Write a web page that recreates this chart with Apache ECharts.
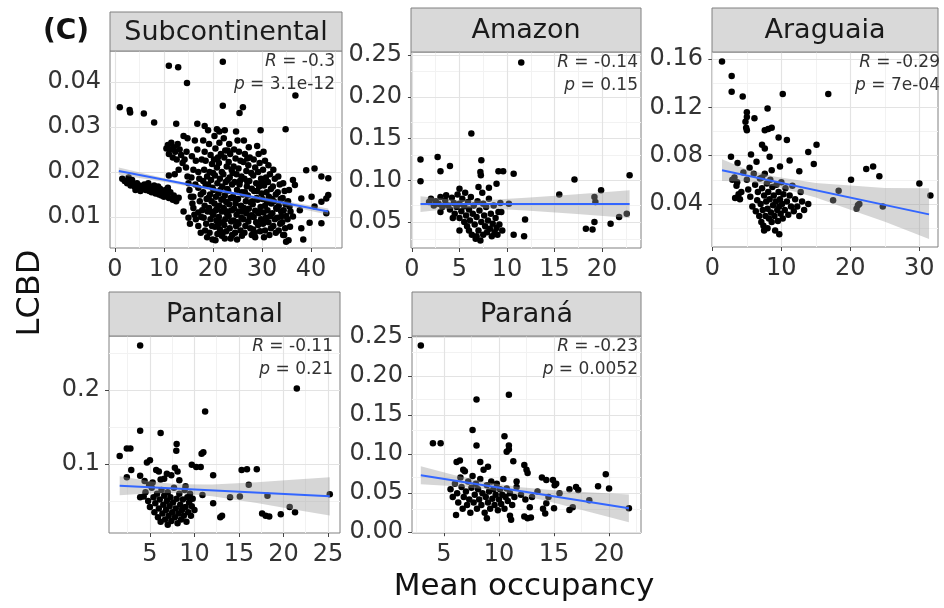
<!DOCTYPE html>
<html><head><meta charset="utf-8">
<script src="https://cdn.jsdelivr.net/npm/echarts@6/dist/echarts.min.js"></script>
<style>html,body{margin:0;padding:0;background:#fff}#c{width:944px;height:608px}</style>
</head><body><div id="c"></div>
<script>
// ---------------- DATA ----------------
const panelNames = ['Subcontinental', 'Amazon', 'Araguaia', 'Pantanal', 'Paraná'];
const rLabels = ['-0.3', '-0.14', '-0.29', '-0.11', '-0.23'];
const pLabels = ['3.1e-12', '0.15', '7e-04', '0.21', '0.0052'];

const subcontinentalPts = [
[22.0,0.0445],[11.0,0.0436],[12.9,0.0433],[14.7,0.0398],[36.8,0.0370],[1.0,0.0344],[3.0,0.0338],[3.1,0.0332],[5.9,0.0330],[8.0,0.0310],[22.0,0.0347],[26.1,0.0344],[25.4,0.0331],[29.7,0.0293],[34.8,0.0295],[16.8,0.0307],[12.5,0.0307],[20.8,0.0295],[21.3,0.0290],[22.4,0.0293],[24.7,0.0290],[18.3,0.0302],[19.0,0.0293],
[1.5,0.0185],[2.0,0.0180],[2.5,0.0175],[3.0,0.0178],[3.2,0.0170],[3.8,0.0172],[4.0,0.0168],[4.5,0.0175],[4.8,0.0165],[5.0,0.0170],[5.5,0.0162],[5.8,0.0168],[6.0,0.0172],[6.3,0.0160],[6.6,0.0165],[7.0,0.0158],[7.2,0.0167],[7.5,0.0155],[7.8,0.0162],[8.0,0.0170],[8.3,0.0152],[8.6,0.0158],[9.0,0.0150],[9.2,0.0163],[9.5,0.0148],[9.8,0.0155],[10.0,0.0145],[10.3,0.0160],[10.6,0.0150],[11.0,0.0142],[11.3,0.0155],[11.8,0.0138],[12.0,0.0148],[12.5,0.0135],[13.0,0.0143],[4.2,0.0160],[5.2,0.0158],[6.8,0.0175],[8.8,0.0168],[10.8,0.0165],[2.8,0.0188],[3.5,0.0182],
[10.8,0.0260],[11.2,0.0250],[11.5,0.0265],[12.0,0.0255],[12.3,0.0245],[11.0,0.0240],[12.8,0.0262],[13.2,0.0250],[10.5,0.0252],[11.8,0.0232],[12.6,0.0228],[13.5,0.0238],[14.0,0.0280],[14.8,0.0275],[13.8,0.0220],[12.2,0.0195],[11.0,0.0192],[13.0,0.0205],
[14.2,0.0228],[14.5,0.0210],[14.8,0.0190],[15.0,0.0175],[15.2,0.0160],[15.5,0.0145],[15.8,0.0130],[16.0,0.0120],[16.2,0.0105],[16.5,0.0095],[15.3,0.0085],[16.8,0.0250],[16.5,0.0225],[17.0,0.0200],[17.2,0.0185],[17.0,0.0165],[17.5,0.0150],[17.3,0.0135],[17.8,0.0115],[17.6,0.0100],[17.0,0.0080],[17.5,0.0065],[14.0,0.0112],[15.0,0.0098],[16.3,0.0270],[14.6,0.0245],[15.7,0.0235],[16.0,0.0205],
[18.0,0.0270],[18.3,0.0245],[18.5,0.0225],[18.2,0.0205],[18.8,0.0190],[18.5,0.0172],[18.0,0.0155],[18.7,0.0140],[18.3,0.0125],[18.9,0.0112],[18.1,0.0098],[18.6,0.0085],[18.4,0.0070],[18.8,0.0055],[19.2,0.0262],[19.5,0.0238],[19.8,0.0218],[19.3,0.0200],[19.6,0.0182],[19.9,0.0165],[19.4,0.0150],[19.7,0.0135],[19.2,0.0120],[19.9,0.0108],[19.5,0.0095],[19.8,0.0080],[19.3,0.0065],[19.9,0.0050],[20.3,0.0280],[20.5,0.0252],[20.2,0.0228],[20.8,0.0210],[20.4,0.0192],[20.9,0.0175],[20.1,0.0160],[20.6,0.0145],[20.3,0.0130],[20.8,0.0118],[20.1,0.0105],[20.7,0.0092],[20.4,0.0078],[20.9,0.0062],[20.5,0.0048],[21.3,0.0265],[21.6,0.0240],[21.2,0.0220],[21.8,0.0200],[21.4,0.0185],[21.9,0.0168],[21.1,0.0152],[21.7,0.0138],[21.3,0.0125],[21.8,0.0112],[21.2,0.0100],[21.6,0.0088],[21.4,0.0072],[21.8,0.0058],
[22.2,0.0275],[22.5,0.0248],[22.3,0.0232],[22.8,0.0212],[22.1,0.0195],[22.6,0.0178],[22.9,0.0162],[22.4,0.0148],[22.7,0.0133],[22.2,0.0120],[22.8,0.0108],[22.5,0.0095],[22.3,0.0082],[22.7,0.0068],[22.4,0.0052],[23.3,0.0262],[23.5,0.0240],[23.2,0.0222],[23.8,0.0205],[23.4,0.0188],[23.9,0.0172],[23.1,0.0158],[23.6,0.0142],[23.3,0.0128],[23.8,0.0115],[23.2,0.0102],[23.7,0.0090],[23.4,0.0075],[23.9,0.0060],[24.3,0.0250],[24.6,0.0230],[24.2,0.0212],[24.8,0.0195],[24.4,0.0178],[24.9,0.0160],[24.1,0.0145],[24.6,0.0130],[24.3,0.0118],[24.8,0.0105],[24.2,0.0092],[24.7,0.0080],[24.5,0.0065],[24.9,0.0050],[25.3,0.0245],[25.6,0.0225],[25.2,0.0208],[25.8,0.0190],[25.4,0.0172],[25.9,0.0155],[25.1,0.0140],[25.7,0.0125],[25.3,0.0112],[25.8,0.0098],[25.2,0.0085],[25.6,0.0070],[25.9,0.0058],
[26.3,0.0270],[26.5,0.0240],[26.2,0.0222],[26.8,0.0202],[26.4,0.0185],[26.9,0.0168],[26.1,0.0150],[26.7,0.0135],[26.3,0.0120],[26.8,0.0108],[26.2,0.0095],[26.6,0.0080],[26.4,0.0065],[27.3,0.0255],[27.5,0.0232],[27.2,0.0215],[27.8,0.0198],[27.4,0.0180],[27.9,0.0163],[27.1,0.0148],[27.7,0.0132],[27.3,0.0118],[27.8,0.0104],[27.2,0.0090],[27.6,0.0075],[27.9,0.0060],[28.3,0.0228],[28.6,0.0210],[28.2,0.0192],[28.8,0.0175],[28.4,0.0158],[28.9,0.0142],[28.1,0.0128],[28.6,0.0114],[28.3,0.0100],[28.8,0.0088],[28.2,0.0072],[28.6,0.0055],[29.3,0.0240],[29.5,0.0220],[29.2,0.0200],[29.8,0.0185],[29.4,0.0168],[29.9,0.0152],[29.1,0.0138],[29.7,0.0122],[29.3,0.0108],[29.8,0.0095],[29.2,0.0082],[29.6,0.0068],[30.3,0.0245],[30.6,0.0225],[30.2,0.0205],[30.8,0.0188],[30.4,0.0170],[30.9,0.0155],[30.1,0.0140],[30.6,0.0125],[30.3,0.0110],[30.8,0.0098],[30.2,0.0085],[30.6,0.0070],[30.4,0.0055],
[31.3,0.0215],[31.6,0.0195],[31.2,0.0178],[31.8,0.0162],[31.4,0.0145],[31.9,0.0130],[31.1,0.0115],[31.7,0.0102],[31.3,0.0088],[31.8,0.0075],[31.5,0.0060],[32.3,0.0205],[32.6,0.0185],[32.2,0.0168],[32.8,0.0150],[32.4,0.0135],[32.9,0.0120],[32.1,0.0108],[32.6,0.0095],[32.3,0.0080],[32.8,0.0065],[33.3,0.0190],[33.6,0.0172],[33.2,0.0155],[33.8,0.0140],[33.4,0.0125],[33.9,0.0112],[33.1,0.0098],[33.7,0.0085],[33.4,0.0070],[34.3,0.0175],[34.6,0.0158],[34.2,0.0142],[34.8,0.0128],[34.4,0.0115],[34.9,0.0102],[34.1,0.0088],[34.7,0.0075],[34.5,0.0060],[34.9,0.0045],[35.5,0.0160],[35.3,0.0135],[35.8,0.0112],[35.2,0.0095],[35.7,0.0078],[35.4,0.0048],
[39.0,0.0204],[40.7,0.0208],[42.1,0.0190],[43.5,0.0186],[43.1,0.0141],[40.1,0.0145],[43.1,0.0108],[39.7,0.0087],[42.1,0.0086],[38.4,0.0050],[37.7,0.0115],[36.3,0.0182],[36.7,0.0171],[35.6,0.0123],[33.9,0.0101],[34.3,0.0060],[36.3,0.0101],[38.0,0.0075],[38.0,0.0141],[42.1,0.0134],[43.5,0.0149],[40.7,0.0123],
[15.6,0.0188],[16.4,0.0172],[17.7,0.0228],[19.0,0.0172],[19.1,0.0143],[20.0,0.0198],[20.6,0.0115],[21.0,0.0082],[21.5,0.0160],[22.0,0.0140],[22.0,0.0065],[23.0,0.0182],[23.0,0.0112],[23.6,0.0052],[24.0,0.0198],[24.5,0.0140],[25.0,0.0088],[25.5,0.0180],[26.0,0.0112],[26.5,0.0155],[27.0,0.0178],[27.5,0.0100],[28.0,0.0135],[28.5,0.0065],[29.0,0.0158],[29.5,0.0112],[30.0,0.0178],[30.5,0.0092],[31.0,0.0132],[32.0,0.0140],[33.0,0.0118],[16.0,0.0145],[17.0,0.0110],[18.0,0.0180],[19.5,0.0112],[21.0,0.0232],[23.0,0.0248],[25.0,0.0270],[27.0,0.0230],[29.0,0.0258]
];

const amazonPts = [
[11.5,0.241],[6.25,0.156],[0.9,0.125],[2.7,0.128],[3.0,0.111],[4.0,0.117],[0.9,0.099],[7.3,0.124],[7.2,0.110],[7.25,0.106],[9.1,0.111],[9.6,0.111],[10.7,0.108],[8.9,0.096],[8.1,0.091],[7.0,0.092],[5.0,0.090],[17.1,0.101],[15.5,0.083],[22.9,0.106],[19.9,0.088],[19.2,0.080],[19.3,0.074],[11.9,0.053],[10.7,0.035],[11.8,0.033],[18.3,0.042],[19.0,0.041],[19.2,0.050],[20.9,0.048],[21.8,0.056],[22.6,0.060],[9.3,0.073],[10.2,0.072],[9.4,0.062],
[2.0,0.078],[2.5,0.075],[2.8,0.072],[3.0,0.080],[3.2,0.068],[3.5,0.076],[3.6,0.082],[3.8,0.070],[4.0,0.065],[4.2,0.079],[4.4,0.073],[4.5,0.060],[4.7,0.068],[4.8,0.083],[5.0,0.055],[5.0,0.072],[5.2,0.063],[5.3,0.078],[5.5,0.050],[5.5,0.069],[5.6,0.085],[5.7,0.058],[5.8,0.045],[5.9,0.074],[6.0,0.040],[6.0,0.065],[6.1,0.052],[6.2,0.080],[6.3,0.035],[6.4,0.060],[6.5,0.070],[6.6,0.047],[6.7,0.030],[6.8,0.056],[6.9,0.075],[7.0,0.040],[7.1,0.064],[7.2,0.028],[7.3,0.050],[7.4,0.085],[7.5,0.035],[7.6,0.058],[7.7,0.045],[7.8,0.068],[7.9,0.038],[8.0,0.052],[8.1,0.078],[8.2,0.042],[8.3,0.060],[8.4,0.033],[8.5,0.048],[8.6,0.070],[8.7,0.038],[8.8,0.055],[8.9,0.043],[9.0,0.035],[9.1,0.062],[9.2,0.047],[3.0,0.062],[2.3,0.070],[4.3,0.055],[1.8,0.074],[5.0,0.040],[6.8,0.033],[7.5,0.072],[9.5,0.040]
];

const araguaiaPts = [
[1.4,0.158],[2.8,0.146],[2.8,0.133],[4.4,0.129],[10.2,0.131],[16.8,0.131],[8.0,0.119],[5.0,0.116],[5.0,0.112],[4.8,0.108],[4.9,0.103],[5.0,0.101],[6.1,0.111],[7.6,0.101],[8.1,0.102],[8.6,0.103],[9.6,0.095],[10.8,0.093],[7.2,0.089],[7.6,0.086],[8.3,0.079],[13.9,0.083],[15.1,0.089],[2.7,0.079],[3.65,0.074],[5.6,0.081],[11.2,0.076],[9.8,0.071],[14.7,0.073],[12.6,0.067],[22.3,0.069],[23.3,0.071],[24.2,0.063],[20.1,0.060],[30.0,0.057],[31.6,0.047],[18.3,0.051],[17.5,0.043],[21.1,0.039],[20.9,0.036],[21.3,0.040],[24.7,0.038],[13.9,0.040],[9.7,0.015],[7.5,0.018],
[3.2,0.062],[3.5,0.055],[3.8,0.048],[3.3,0.045],[3.6,0.058],[4.0,0.044],[4.5,0.066],[5.0,0.060],[5.2,0.052],[5.5,0.046],[5.8,0.038],[6.0,0.065],[6.2,0.056],[6.3,0.034],[6.5,0.043],[6.6,0.050],[6.8,0.030],[6.9,0.061],[7.0,0.040],[7.1,0.025],[7.2,0.053],[7.3,0.035],[7.4,0.022],[7.5,0.047],[7.6,0.065],[7.7,0.030],[7.8,0.042],[7.9,0.057],[8.0,0.020],[8.0,0.036],[8.1,0.050],[8.2,0.028],[8.3,0.044],[8.4,0.060],[8.5,0.033],[8.6,0.025],[8.7,0.054],[8.8,0.039],[8.9,0.047],[9.0,0.030],[9.1,0.018],[9.2,0.042],[9.3,0.056],[9.4,0.035],[9.5,0.026],[9.6,0.050],[9.7,0.038],[9.8,0.044],[9.9,0.032],[10.0,0.058],[10.1,0.040],[10.2,0.028],[10.3,0.048],[10.5,0.035],[10.6,0.053],[10.8,0.042],[11.0,0.031],[11.2,0.047],[11.4,0.038],[11.6,0.055],[11.8,0.034],[12.0,0.044],[12.3,0.038],[12.6,0.030],[12.8,0.050],[13.0,0.042],[13.3,0.035],[2.9,0.060],[4.2,0.050],[5.4,0.070],[6.4,0.075],[8.6,0.068],[7.2,0.062]
];

const pantanalPts = [
[3.9,0.260],[21.5,0.202],[11.2,0.171],[3.9,0.145],[6.2,0.142],[1.6,0.111],[2.4,0.121],[2.8,0.121],[8.0,0.127],[7.96,0.118],[11.0,0.116],[10.8,0.114],[2.9,0.092],[2.4,0.082],[9.7,0.099],[10.2,0.096],[10.7,0.096],[12.1,0.085],[15.3,0.092],[15.9,0.093],[17.0,0.093],[16.1,0.072],[14.0,0.055],[15.1,0.056],[18.2,0.057],[25.2,0.059],[12.1,0.047],[13.1,0.030],[12.9,0.028],[17.6,0.033],[18.0,0.030],[18.4,0.029],[19.7,0.032],[20.7,0.042],[21.3,0.035],[10.9,0.058],[4.66,0.102],[5.0,0.105],[5.7,0.092],[6.2,0.079],[3.9,0.084],[4.4,0.077],[6.9,0.087],[7.8,0.095],[8.1,0.090],[3.9,0.055],[4.3,0.056],
[4.5,0.062],[4.8,0.050],[5.0,0.042],[5.2,0.068],[5.4,0.055],[5.5,0.035],[5.6,0.047],[5.8,0.060],[5.9,0.028],[6.0,0.040],[6.1,0.052],[6.2,0.022],[6.3,0.065],[6.4,0.033],[6.5,0.045],[6.6,0.057],[6.7,0.025],[6.8,0.038],[6.9,0.050],[7.0,0.018],[7.0,0.062],[7.1,0.030],[7.2,0.043],[7.3,0.055],[7.4,0.023],[7.5,0.035],[7.6,0.048],[7.7,0.068],[7.8,0.028],[7.9,0.040],[8.0,0.053],[8.1,0.020],[8.2,0.033],[8.3,0.060],[8.4,0.045],[8.5,0.025],[8.6,0.038],[8.7,0.052],[8.8,0.030],[8.9,0.065],[9.0,0.042],[9.1,0.022],[9.2,0.055],[9.3,0.035],[9.4,0.048],[9.5,0.060],[9.6,0.030],[9.7,0.043],[9.8,0.053],[10.0,0.038],[5.3,0.075],[6.6,0.080],[7.4,0.085],[8.3,0.078],[4.9,0.072],[6.0,0.090],[9.0,0.070]
];

const paranaPts = [
[2.9,0.239],[10.9,0.176],[7.96,0.170],[7.6,0.131],[7.96,0.111],[4.0,0.114],[4.7,0.114],[10.5,0.123],[10.9,0.111],[10.7,0.103],[10.9,0.106],[11.3,0.091],[12.3,0.086],[12.5,0.080],[12.6,0.076],[13.9,0.070],[14.3,0.067],[14.9,0.067],[15.06,0.060],[15.2,0.062],[19.7,0.0744],[19.0,0.059],[20.0,0.056],[21.8,0.0306],[18.2,0.041],[16.4,0.055],[17.0,0.058],[17.2,0.054],[16.7,0.032],[16.4,0.0285],[15.0,0.0306],[14.3,0.037],[14.2,0.024],[12.3,0.020],[12.6,0.018],[12.9,0.019],[11.0,0.021],[11.1,0.016],[11.6,0.065],[6.1,0.022],[8.9,0.018],[6.45,0.092],[6.15,0.090],[6.75,0.080],[9.0,0.084],[8.3,0.090],
[5.6,0.055],[5.8,0.045],[6.0,0.062],[6.2,0.050],[6.3,0.038],[6.5,0.070],[6.6,0.058],[6.7,0.030],[6.8,0.045],[6.9,0.078],[7.0,0.052],[7.1,0.035],[7.2,0.065],[7.3,0.042],[7.4,0.025],[7.5,0.057],[7.6,0.072],[7.7,0.038],[7.8,0.048],[7.9,0.062],[8.0,0.030],[8.1,0.055],[8.2,0.042],[8.3,0.068],[8.4,0.035],[8.5,0.050],[8.6,0.080],[8.7,0.025],[8.8,0.045],[8.9,0.060],[9.0,0.038],[9.1,0.052],[9.2,0.030],[9.3,0.065],[9.4,0.043],[9.5,0.055],[9.6,0.035],[9.7,0.048],[9.8,0.062],[9.9,0.028],[10.0,0.042],[10.1,0.055],[10.2,0.036],[10.3,0.048],[10.4,0.068],[10.5,0.030],[10.6,0.045],[10.7,0.056],[10.8,0.040],[11.0,0.050],[11.2,0.035],[11.4,0.045],[11.6,0.058],[12.0,0.048],[12.4,0.042],[13.0,0.045],[13.5,0.052],[14.5,0.045],[15.5,0.050],[12.8,0.032],[14.0,0.030]
];

// fitted regression lines (end points) and confidence bands
const fitX = [[0.8, 43.5], [0.9, 22.9], [1.4, 31.4], [1.6, 25.2], [2.9, 21.8]];
const fitY = [[0.0202, 0.0112], [0.0718, 0.0718], [0.068, 0.0314], [0.0707, 0.0563], [0.073, 0.0306]];
const bandX = [
  [0.8, 11, 22, 33, 43.5],
  [0.9, 4, 7, 12, 17, 22.9],
  [1.4, 5, 9, 15, 20, 25, 31.4],
  [1.6, 5, 8, 12, 17, 21, 25.2],
  [2.9, 6, 9, 12, 15, 18.5, 21.8]
];
const bandLo = [
  [0.0194, 0.0176, 0.0154, 0.0130, 0.0105],
  [0.062, 0.066, 0.067, 0.064, 0.060, 0.055],
  [0.059, 0.0586, 0.0547, 0.0454, 0.0353, 0.0252, 0.0110],
  [0.0579, 0.0606, 0.0608, 0.0564, 0.0473, 0.0389, 0.0303],
  [0.0615, 0.059, 0.0548, 0.0476, 0.0379, 0.025, 0.0129]
];
const bandHi = [
  [0.0210, 0.0184, 0.0160, 0.0138, 0.0119],
  [0.081, 0.077, 0.076, 0.079, 0.083, 0.088],
  [0.077, 0.0686, 0.0627, 0.0574, 0.0553, 0.0532, 0.0530],
  [0.0835, 0.0766, 0.0728, 0.0724, 0.0753, 0.0789, 0.0823],
  [0.0845, 0.073, 0.0638, 0.0576, 0.0539, 0.051, 0.0483]
];

// axis ticks
const xTicks = [[0,10,20,30,40], [0,5,10,15,20], [0,10,20,30], [5,10,15,20,25], [5,10,15,20]];
const xMinor = [[5,15,25,35,45], [2.5,7.5,12.5,17.5,22.5], [5,15,25], [2.5,7.5,12.5,17.5,22.5], [2.5,7.5,12.5,17.5,22.5]];
const yTicks = [[0.01,0.02,0.03,0.04], [0.05,0.10,0.15,0.20,0.25], [0.04,0.08,0.12,0.16], [0.1,0.2], [0,0.05,0.10,0.15,0.20,0.25]];
const yMinor = [[0.005,0.015,0.025,0.035,0.045], [0.025,0.075,0.125,0.175,0.225], [0.02,0.06,0.10,0.14], [0.05,0.15,0.25], [0.025,0.075,0.125,0.175,0.225]];
const yDecimals = [2, 2, 2, 1, 2];
const xRange = [[-1.0, 46.3], [-0.1, 24.1], [-0.05, 32.7], [0.4, 26.35], [2.1, 22.9]];
const yRange = [[0.0031, 0.0469], [0.019, 0.2536], [0.0044, 0.1658], [0.0068, 0.273], [-0.001, 0.2513]];

// ---------------- LAYOUT ----------------
const allPts = [subcontinentalPts, amazonPts, araguaiaPts, pantanalPts, paranaPts];
const layout = [
  {left:110, top:51, width:232, height:197, stripTop:12, textRight:335},
  {left:411, top:52, width:230, height:196, stripTop:8, textRight:638},
  {left:712, top:52, width:226, height:195, stripTop:8, textRight:940},
  {left:109, top:336, width:231, height:197, stripTop:292, textRight:333},
  {left:412, top:336, width:229, height:197, stripTop:292, textRight:638}
];
const FONT = 'DejaVu Sans';
const grids = [], xAxes = [], yAxes = [], series = [], graphics = [];

layout.forEach((L, i) => {
  grids.push({left:L.left, top:L.top, width:L.width, height:L.height, show:true,
    backgroundColor:'#ffffff', borderColor:'#808080', borderWidth:1, containLabel:false});
  xAxes.push({type:'value', gridIndex:i, min:xRange[i][0], max:xRange[i][1],
    axisLine:{show:false}, splitLine:{show:false},
    axisTick:{show:true, customValues:xTicks[i], length:4, lineStyle:{color:'#444', width:1}},
    axisLabel:{customValues:xTicks[i], fontSize:24, color:'#333', fontFamily:FONT, margin:10,
      formatter:v => String(v)}});
  yAxes.push({type:'value', gridIndex:i, min:yRange[i][0], max:yRange[i][1],
    axisLine:{show:false}, splitLine:{show:false},
    axisTick:{show:true, customValues:yTicks[i], length:4, lineStyle:{color:'#444', width:1}},
    axisLabel:{customValues:yTicks[i], fontSize:24, color:'#333', fontFamily:FONT, margin:9,
      formatter:v => v.toFixed(yDecimals[i])}});

  const gl = [];
  xMinor[i].forEach(v => gl.push({xAxis:v, lineStyle:{color:'#f2f2f2', width:1, type:'solid'}}));
  yMinor[i].forEach(v => gl.push({yAxis:v, lineStyle:{color:'#f2f2f2', width:1, type:'solid'}}));
  xTicks[i].forEach(v => gl.push({xAxis:v, lineStyle:{color:'#e3e3e3', width:1.2, type:'solid'}}));
  yTicks[i].forEach(v => gl.push({yAxis:v, lineStyle:{color:'#e3e3e3', width:1.2, type:'solid'}}));
  series.push({type:'line', xAxisIndex:i, yAxisIndex:i, data:[], z:1, silent:true,
    markLine:{z:1, silent:true, symbol:['none','none'], label:{show:false}, animation:false, data:gl}});

  series.push({type:'scatter', xAxisIndex:i, yAxisIndex:i, data:allPts[i], symbolSize:6.5,
    itemStyle:{color:'#000000', opacity:1, borderWidth:0}, z:2, silent:true});

  const bx = bandX[i], bl = bandLo[i], bh = bandHi[i];
  series.push({type:'custom', xAxisIndex:i, yAxisIndex:i, data:[[bx[0], bl[0]]], z:3, silent:true,
    renderItem:function(params, api){
      const pts = [];
      for (let k = 0; k < bx.length; k++) pts.push(api.coord([bx[k], bh[k]]));
      for (let k = bx.length - 1; k >= 0; k--) pts.push(api.coord([bx[k], bl[k]]));
      return {type:'polygon', shape:{points:pts}, style:{fill:'rgba(153,153,153,0.4)'}};
    }});

  series.push({type:'line', xAxisIndex:i, yAxisIndex:i,
    data:fitX[i].map((x, k) => [x, fitY[i][k]]), showSymbol:false, symbol:'none',
    lineStyle:{color:'#3366FF', width:2}, z:4, silent:true});

  // strip
  graphics.push({type:'rect', shape:{x:L.left, y:L.stripTop, width:L.width, height:L.top - L.stripTop},
    style:{fill:'#d9d9d9', stroke:'#808080', lineWidth:1}, z:10});
  graphics.push({type:'text', x:L.left + L.width / 2, y:(L.stripTop + L.top) / 2 + 1,
    style:{text:panelNames[i], fontSize:27, fontFamily:FONT, fill:'#1a1a1a', textAlign:'center', textVerticalAlign:'middle'}, z:11});
  // annotations
  graphics.push({type:'text', x:L.textRight, y:L.top + 11,
    style:{text:'{i|R} = ' + rLabels[i], fontSize:17, fontFamily:FONT, fill:'#333', textAlign:'right', textVerticalAlign:'middle',
      rich:{i:{fontStyle:'italic', fontSize:17, fontFamily:FONT, fill:'#333'}}}, z:11});
  graphics.push({type:'text', x:L.textRight, y:L.top + 34,
    style:{text:'{i|p} = ' + pLabels[i], fontSize:17, fontFamily:FONT, fill:'#333', textAlign:'right', textVerticalAlign:'middle',
      rich:{i:{fontStyle:'italic', fontSize:17, fontFamily:FONT, fill:'#333'}}}, z:11});
});

graphics.push({type:'text', x:66, y:32, style:{text:'(C)', fontSize:28, fontWeight:'bold', fontFamily:FONT, fill:'#111', textAlign:'center', textVerticalAlign:'middle'}, z:11});
graphics.push({type:'text', x:31, y:293, rotation:Math.PI / 2, style:{text:'LCBD', fontSize:32, fontFamily:FONT, fill:'#111', textAlign:'center', textVerticalAlign:'middle'}, z:11});
graphics.push({type:'text', x:524, y:587, style:{text:'Mean occupancy', fontSize:31, fontFamily:FONT, fill:'#111', textAlign:'center', textVerticalAlign:'middle'}, z:11});

const chart = echarts.init(document.getElementById('c'), null, {renderer:'canvas'});
chart.setOption({
  animation:false,
  backgroundColor:'#ffffff',
  grid:grids, xAxis:xAxes, yAxis:yAxes, series:series, graphic:graphics
});
</script></body></html>
